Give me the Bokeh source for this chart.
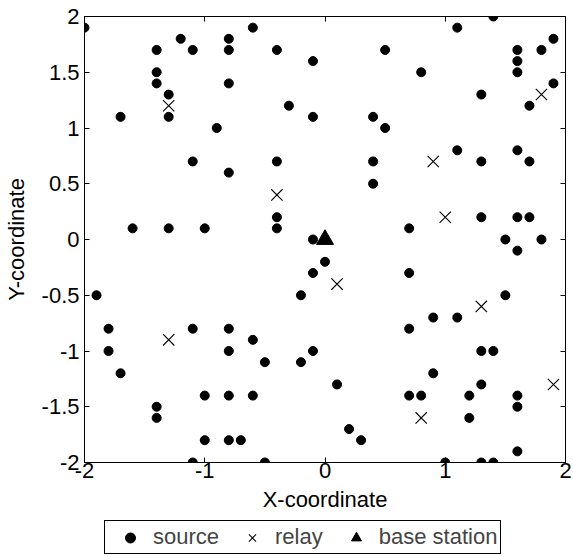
from bokeh.plotting import figure
from bokeh.layouts import column
from bokeh.models import LinearAxis, Legend, LegendItem, FixedTicker, Range1d, CustomLabelingPolicy
from bokeh.embed import file_html
from bokeh.resources import INLINE

# ---- data ----
source_x = [-2.0, -1.4, -1.2, -1.1, -0.8, -0.8, -1.4, -1.4, -0.8, -1.3, -1.3, -1.7, -0.9, -1.1,
            -0.6, -0.4, -0.1, 0.5, -0.3, -0.1, 0.4, 0.5, -0.4, 0.4,
            1.4, 1.1, 1.6, 1.6, 1.6, 1.8, 1.9, 0.8, 1.9, 1.3, 1.7, 1.1, 1.6, 1.3, 1.7,
            -0.8, -1.6, -1.3, -1.0, -1.9,
            0.4, -0.4, -0.4, -0.1, 0.0, -0.1, -0.2, 0.7, 0.7,
            1.3, 1.6, 1.7, 1.5, 1.8, 1.6, 1.5, 0.9, 1.1,
            -1.8, -1.1, -0.8, -1.8, -0.8, -1.7, -1.0, -0.8, -1.4, -1.4, -1.0, -0.8, -0.7, -1.1,
            -0.6, -0.5, -0.2, -0.1, 0.1, -0.6, 0.2, 0.3, -0.5, 0.7, 0.7,
            1.3, 1.4, 0.9, 1.3, 0.8, 1.2, 1.6, 1.6, 1.2, 1.6, 1.0, 1.3, 1.4]
source_y = [1.9, 1.7, 1.8, 1.7, 1.8, 1.7, 1.5, 1.4, 1.4, 1.3, 1.1, 1.1, 1.0, 0.7,
            1.9, 1.7, 1.6, 1.7, 1.2, 1.1, 1.1, 1.0, 0.7, 0.7,
            2.0, 1.9, 1.7, 1.6, 1.5, 1.7, 1.8, 1.5, 1.4, 1.3, 1.2, 0.8, 0.8, 0.7, 0.7,
            0.6, 0.1, 0.1, 0.1, -0.5,
            0.5, 0.2, 0.1, 0.0, -0.2, -0.3, -0.5, 0.1, -0.3,
            0.2, 0.2, 0.2, 0.0, 0.0, -0.1, -0.5, -0.7, -0.7,
            -0.8, -0.8, -0.8, -1.0, -1.0, -1.2, -1.4, -1.4, -1.5, -1.6, -1.8, -1.8, -1.8, -2.0,
            -0.9, -1.1, -1.1, -1.0, -1.3, -1.4, -1.7, -1.8, -2.0, -0.8, -1.4,
            -1.0, -1.0, -1.2, -1.3, -1.4, -1.4, -1.4, -1.5, -1.6, -1.9, -2.0, -2.0, -2.0]
relay_x = [-1.3, 1.8, 0.9, -0.4, 0.1, 1.0, 1.3, -1.3, 1.9, 0.8]
relay_y = [1.2, 1.3, 0.7, 0.4, -0.4, 0.2, -0.6, -0.9, -1.3, -1.6]
base_x = [0.0]
base_y = [0.0]

x_ticks = [-2.0, -1.0, 0.0, 1.0, 2.0]
x_tick_labels = ["-2", "-1", "0", "1", "2"]
y_ticks = [-2.0, -1.5, -1.0, -0.5, 0.0, 0.5, 1.0, 1.5, 2.0]
y_tick_labels = ["-2", "-1.5", "-1", "-0.5", "0", "0.5", "1", "1.5", "2"]
legend_labels = ["source", "relay", "base station"]

FONT = "Liberation Sans"
FS = "22px"

SRC_STYLE = dict(marker="circle", color="black")
REL_STYLE = dict(marker="x", line_color="black", line_width=1.1)
BS_STYLE = dict(marker="triangle", color="black")

p = figure(width=573, height=518, x_range=Range1d(-2, 2), y_range=Range1d(-2, 2),
           output_backend="svg", toolbar_location=None,
           min_border_left=82, min_border_top=16, min_border_right=8, min_border_bottom=56)
p.grid.visible = False
p.outline_line_color = "black"
p.outline_line_alpha = 1.0
p.outline_line_width = 1

no_labels = CustomLabelingPolicy(code="""
try { for (let i = 0; i < indices.size; i++) { indices.unset(i) } } catch (e) {}
return indices
""")

def style_axis(ax, ticks, labels):
    ax.ticker = FixedTicker(ticks=ticks)
    ax.axis_line_color = "black"
    ax.major_tick_line_color = "black"
    ax.major_tick_in = 5
    ax.major_tick_out = 0
    ax.minor_tick_line_color = None
    ax.major_label_text_font = FONT
    ax.major_label_text_color = "black"
    if labels is not None:
        ax.major_label_text_font_size = FS
        ax.major_label_standoff = 4
        ax.major_label_overrides = {v: s for v, s in zip(ticks, labels)}
    else:
        ax.major_label_text_font_size = "1px"
        ax.major_label_standoff = 0
        ax.major_label_policy = no_labels
    ax.axis_label_text_font = FONT
    ax.axis_label_text_font_size = FS
    ax.axis_label_text_font_style = "normal"
    ax.axis_label_text_color = "black"

xa = p.xaxis[0]
ya = p.yaxis[0]
style_axis(xa, x_ticks, x_tick_labels)
style_axis(ya, y_ticks, y_tick_labels)
xa.axis_label = "X-coordinate"
ya.axis_label = "Y-coordinate"
xa.major_label_standoff = 0
xa.axis_label_standoff = 6
ya.major_label_standoff = 5
ya.axis_label_standoff = 10

top = LinearAxis()
style_axis(top, x_ticks, None)
p.add_layout(top, "above")
right = LinearAxis()
style_axis(right, y_ticks, None)
p.add_layout(right, "right")

p.scatter(source_x, source_y, size=9, **SRC_STYLE)
p.scatter(relay_x, relay_y, size=16, **REL_STYLE)
p.scatter(base_x, base_y, size=17, **BS_STYLE)

# ---- legend strip below the axes (key glyphs use the real data, kept out of view) ----
lg = figure(width=573, height=38, x_range=Range1d(10, 11), y_range=Range1d(10, 11),
            output_backend="svg", toolbar_location=None,
            x_axis_location=None, y_axis_location=None, min_border=0)
lg.grid.visible = False
lg.outline_line_color = None
k_src = lg.scatter(source_x[:1], source_y[:1], size=9, **SRC_STYLE)
k_rel = lg.scatter(relay_x[:1], relay_y[:1], size=16, **REL_STYLE)
k_bs = lg.scatter(base_x, base_y, size=17, **BS_STYLE)

legend = Legend(items=[LegendItem(label=legend_labels[0], renderers=[k_src]),
                       LegendItem(label=legend_labels[1], renderers=[k_rel]),
                       LegendItem(label=legend_labels[2], renderers=[k_bs])],
                orientation="horizontal", location=(20, 2),
                border_line_color="black", border_line_width=1, border_line_alpha=1.0,
                background_fill_color="white", background_fill_alpha=1.0,
                padding=3, spacing=11, glyph_width=44, glyph_height=25, label_standoff=1,
                label_height=25,
                label_text_font=FONT, label_text_font_size=FS, margin=0)
lg.add_layout(legend, "center")

layout = column(p, lg, spacing=0)
open("out.html", "w").write(file_html(layout, INLINE))
